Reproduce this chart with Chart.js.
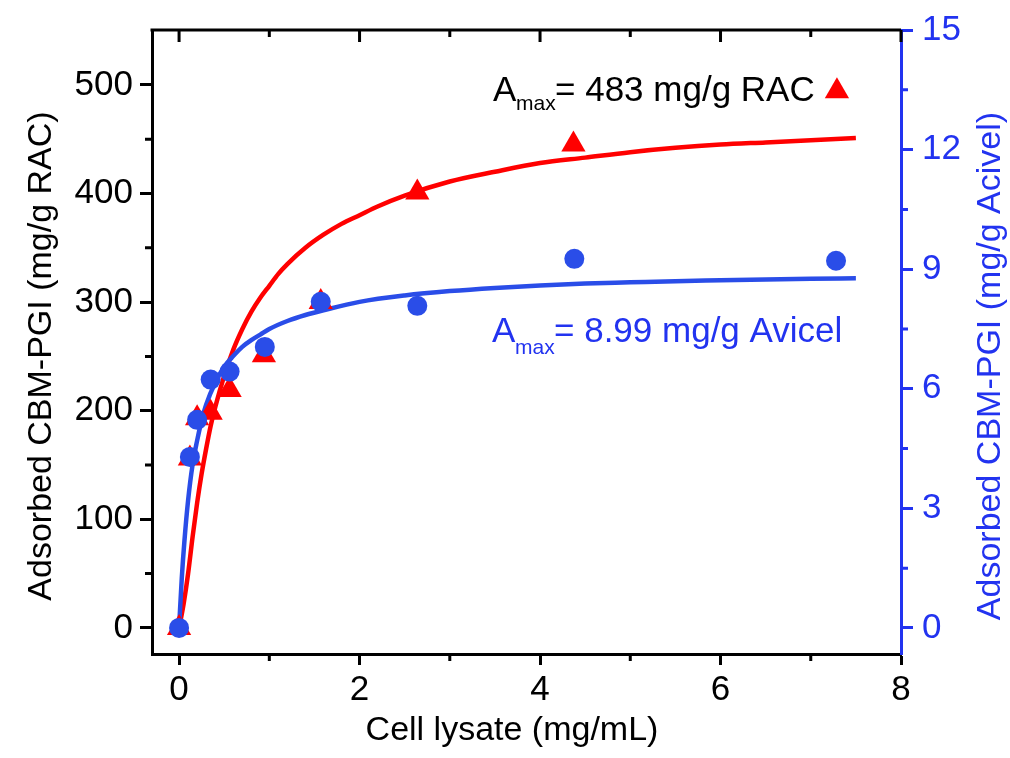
<!DOCTYPE html>
<html>
<head>
<meta charset="utf-8">
<script src="https://cdn.jsdelivr.net/npm/chart.js@4.4.1/dist/chart.umd.min.js"></script>
<style>
  html, body { margin: 0; padding: 0; background: #fff; }
  #wrap { width: 1010px; height: 758px; }
</style>
</head>
<body>
<div id="wrap"><canvas id="myChart" width="1010" height="758"></canvas></div>
<script>
'use strict';

// measured points (cell lysate mg/mL vs adsorbed CBM-PGI)
var racX = [0, 0.12, 0.2, 0.35, 0.56, 0.94, 1.57, 2.64, 4.37, 7.29];
var racY = [0, 156, 193, 198, 219, 251, 300, 401, 445, 494];
var avicelX = [0, 0.12, 0.2, 0.35, 0.56, 0.95, 1.57, 2.64, 4.38, 7.28];
var avicelY = [0, 4.29, 5.22, 6.23, 6.43, 7.05, 8.18, 8.08, 9.26, 9.21];

// fitted curves
var racFitX = [0, 0.05, 0.1, 0.15, 0.2, 0.25, 0.3, 0.35, 0.4, 0.5, 0.6, 0.7, 0.8, 0.9, 1.0, 1.1, 1.2, 1.4, 1.6, 1.8, 2.0, 2.2, 2.5, 3.0, 3.5, 4.0, 4.5, 5.0, 5.5, 6.0, 6.5, 7.0, 7.5];
var racFitY = [0, 22, 50, 84, 115, 142, 165, 186, 203, 232, 256, 275, 291, 304, 315, 326, 335, 350, 362, 372, 380, 388, 398, 411, 420, 428, 433, 438, 442, 445, 447, 449, 451];
var avicelFitX = [0, 0.03, 0.06, 0.1, 0.15, 0.2, 0.25, 0.3, 0.4, 0.5, 0.6, 0.7, 0.8, 0.9, 1.0, 1.2, 1.4, 1.6, 2.0, 2.5, 3.0, 3.5, 4.0, 4.5, 5.0, 5.5, 6.0, 6.5, 7.0, 7.5];
var avicelFitY = [0, 1.25, 2.2, 3.2, 4.1, 4.7, 5.2, 5.6, 6.15, 6.55, 6.82, 7.05, 7.22, 7.36, 7.5, 7.7, 7.85, 7.97, 8.18, 8.34, 8.45, 8.53, 8.59, 8.64, 8.67, 8.7, 8.72, 8.74, 8.76, 8.77];

// tick labels
var xTicks = [0, 2, 4, 6, 8];
var xMinor = [1, 3, 5, 7];
var yTicks = [0, 100, 200, 300, 400, 500];
var yMinor = [50, 150, 250, 350, 450];
var y2Ticks = [0, 3, 6, 9, 12, 15];
var y2Minor = [1.5, 4.5, 7.5, 10.5, 13.5];

var RED = '#ff0000';
var BLUE = '#2a4de8';
var AXBLUE = '#2233f0';
var FONT = "'Liberation Sans', Arial, sans-serif";

function pts(xs, ys) {
  var out = [];
  for (var i = 0; i < xs.length; i++) out.push({x: xs[i], y: ys[i]});
  return out;
}

function fixTicks(list) {
  return function(scale) {
    scale.ticks = list.map(function(v) { return {value: v}; });
  };
}

// minor ticks, top frame, axis titles and the two Amax notes
var decorations = {
  id: 'decorations',
  afterDraw: function(chart) {
    var ctx = chart.ctx;
    var a = chart.chartArea;
    var sx = chart.scales.x, sy = chart.scales.y, sy2 = chart.scales.y2;
    ctx.save();
    ctx.lineWidth = 3;

    ctx.strokeStyle = '#000';
    ctx.beginPath();
    yMinor.forEach(function(v) {
      var p = sy.getPixelForValue(v);
      ctx.moveTo(a.left - 7, p); ctx.lineTo(a.left, p);
    });
    xMinor.forEach(function(v) {
      var p = sx.getPixelForValue(v);
      ctx.moveTo(p, a.bottom); ctx.lineTo(p, a.bottom + 7);
    });
    // top frame with inward ticks
    ctx.moveTo(a.left - 1.5, a.top); ctx.lineTo(a.right, a.top);
    xTicks.forEach(function(v) {
      var p = sx.getPixelForValue(v);
      ctx.moveTo(p, a.top); ctx.lineTo(p, a.top + 12);
    });
    xMinor.forEach(function(v) {
      var p = sx.getPixelForValue(v);
      ctx.moveTo(p, a.top); ctx.lineTo(p, a.top + 7);
    });
    ctx.stroke();

    ctx.strokeStyle = AXBLUE;
    ctx.beginPath();
    y2Minor.forEach(function(v) {
      var p = sy2.getPixelForValue(v);
      ctx.moveTo(a.right, p); ctx.lineTo(a.right + 7, p);
    });
    ctx.stroke();

    // axis titles
    ctx.font = '34px ' + FONT;
    ctx.textAlign = 'center';
    ctx.textBaseline = 'alphabetic';
    ctx.fillStyle = '#000';
    ctx.fillText('Cell lysate (mg/mL)', 512, 740);

    ctx.save();
    ctx.translate(51, 356);
    ctx.rotate(-Math.PI / 2);
    ctx.fillText('Adsorbed CBM-PGI (mg/g RAC)', 0, 0);
    ctx.restore();

    ctx.save();
    ctx.fillStyle = AXBLUE;
    ctx.translate(1000, 366);
    ctx.rotate(-Math.PI / 2);
    ctx.fillText('Adsorbed CBM-PGI (mg/g Acivel)', 0, 0);
    ctx.restore();

    // Amax notes
    function note(x, y, rest, color, dy) {
      ctx.fillStyle = color;
      ctx.textAlign = 'left';
      ctx.font = '35px ' + FONT;
      ctx.fillText('A', x, y);
      ctx.font = '21px ' + FONT;
      ctx.fillText('max', x + 23, y + dy);
      ctx.font = '35px ' + FONT;
      ctx.fillText(rest, x + 62, y);
    }
    note(493, 101, '= 483 mg/g RAC', '#000', 9);
    note(492, 342, '= 8.99 mg/g Avicel', AXBLUE, 12);

    ctx.restore();
  }
};

var ctx = document.getElementById('myChart');
var myChart = new Chart(ctx, {
  type: 'scatter',
  data: {
    datasets: [
      {
        label: 'Avicel',
        data: pts(avicelX, avicelY),
        yAxisID: 'y2',
        pointStyle: 'circle',
        pointRadius: 10,
        backgroundColor: BLUE,
        borderColor: BLUE,
        borderWidth: 0,
        order: 0
      },
      {
        label: 'RAC',
        data: pts(racX, racY),
        yAxisID: 'y',
        pointStyle: 'triangle',
        pointRadius: 14,
        backgroundColor: RED,
        borderColor: RED,
        borderWidth: 0,
        order: 1
      },
      {
        label: 'Avicel fit',
        data: pts(avicelFitX, avicelFitY),
        yAxisID: 'y2',
        showLine: true,
        pointRadius: 0,
        borderColor: BLUE,
        borderWidth: 4.5,
        cubicInterpolationMode: 'monotone',
        order: 2
      },
      {
        label: 'RAC fit',
        data: pts(racFitX, racFitY),
        yAxisID: 'y',
        showLine: true,
        pointRadius: 0,
        borderColor: RED,
        borderWidth: 4.5,
        cubicInterpolationMode: 'monotone',
        order: 3
      }
    ]
  },
  plugins: [decorations],
  options: {
    responsive: false,
    animation: false,
    devicePixelRatio: 1,
    layout: { padding: { top: 30, left: 0, right: 0, bottom: 0 } },
    plugins: {
      legend: { display: false },
      tooltip: { enabled: false }
    },
    font: { family: FONT },
    scales: {
      x: {
        type: 'linear',
        position: 'bottom',
        min: -0.3,
        max: 8,
        afterBuildTicks: fixTicks(xTicks),
        afterFit: function(s) { s.height = 104; },
        border: { color: '#000', width: 3 },
        grid: { drawOnChartArea: false, drawTicks: true, tickLength: 11, tickWidth: 3, tickColor: '#000' },
        ticks: { color: '#000', padding: 4, font: { size: 35, family: FONT }, maxRotation: 0 }
      },
      y: {
        type: 'linear',
        position: 'left',
        min: -24,
        max: 550.5,
        afterBuildTicks: fixTicks(yTicks),
        afterFit: function(s) { s.width = 152; },
        border: { color: '#000', width: 3 },
        grid: { drawOnChartArea: false, drawTicks: true, tickLength: 12, tickWidth: 3, tickColor: '#000' },
        ticks: { color: '#000', padding: 7, font: { size: 35, family: FONT } }
      },
      y2: {
        type: 'linear',
        position: 'right',
        min: -0.654,
        max: 15,
        afterBuildTicks: fixTicks(y2Ticks),
        afterFit: function(s) { s.width = 109; },
        border: { color: AXBLUE, width: 3 },
        grid: { drawOnChartArea: false, drawTicks: true, tickLength: 12, tickWidth: 3, tickColor: AXBLUE },
        ticks: { color: AXBLUE, padding: 9, font: { size: 35, family: FONT } }
      }
    }
  }
});
</script>
</body>
</html>
